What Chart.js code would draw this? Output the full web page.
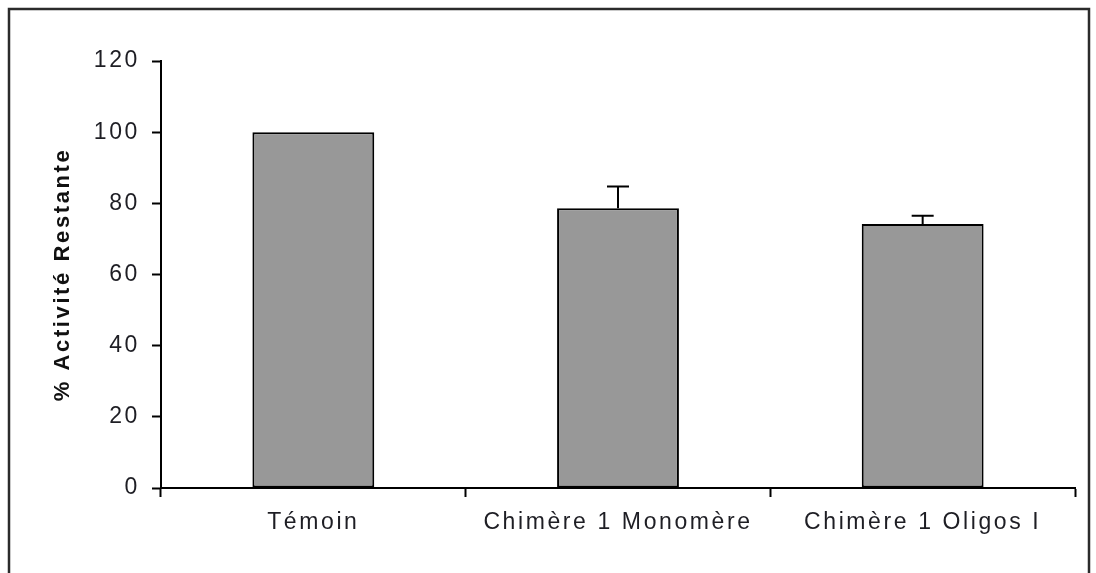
<!DOCTYPE html>
<html>
<head>
<meta charset="utf-8">
<script src="https://cdn.jsdelivr.net/npm/chart.js@4"></script>
<style>
  html, body { margin: 0; padding: 0; background: #fff; }
  #wrap { position: relative; width: 1096px; height: 573px; }
</style>
</head>
<body>
<div id="wrap"><canvas id="chart" width="1096" height="573"></canvas></div>
<script>
// Data
const categories = ['Témoin', 'Chimère 1 Monomère', 'Chimère 1 Oligos I'];
const activity = [100, 78.6, 74.2];
const errorPlus = [0, 6.1, 2.3];
const yTicks = [0, 20, 40, 60, 80, 100, 120];

const FONT = '"Liberation Sans", Arial, Helvetica, sans-serif';
const SPACING = '2.6px';

// Wide letter spacing like the original rendering, plus the outer frame
const framePlugin = {
    id: 'frame',
    beforeUpdate: (chart) => { chart.ctx.letterSpacing = SPACING; },
    beforeDraw: (chart) => {
        const ctx = chart.ctx;
        ctx.letterSpacing = SPACING;
        ctx.save();
        ctx.strokeStyle = '#2b2b2b';
        ctx.lineWidth = 2.5;
        ctx.beginPath();
        ctx.moveTo(9, 573);
        ctx.lineTo(9, 9);
        ctx.lineTo(1089, 9);
        ctx.lineTo(1089, 573);
        ctx.stroke();
        ctx.restore();
    }
};

// Positive error bars drawn from the y scale
const errorBarPlugin = {
    id: 'errorBars',
    afterDatasetsDraw: (chart) => {
        const ctx = chart.ctx;
        const y = chart.scales.y;
        const meta = chart.getDatasetMeta(0);
        ctx.save();
        ctx.strokeStyle = '#000';
        ctx.lineWidth = 2;
        meta.data.forEach((bar, i) => {
            if (!errorPlus[i]) return;
            const top = y.getPixelForValue(activity[i] + errorPlus[i]);
            const base = y.getPixelForValue(activity[i]);
            ctx.beginPath();
            ctx.moveTo(bar.x, base);
            ctx.lineTo(bar.x, top);
            ctx.moveTo(bar.x - 11, top);
            ctx.lineTo(bar.x + 11, top);
            ctx.stroke();
        });
        ctx.restore();
    }
};

new Chart(document.getElementById('chart'), {
    type: 'bar',
    data: {
        labels: categories,
        datasets: [{
            data: activity,
            backgroundColor: '#989898',
            borderColor: '#000',
            borderWidth: 2,
            borderSkipped: false,
            categoryPercentage: 1,
            barPercentage: 0.4
        }]
    },
    options: {
        responsive: false,
        devicePixelRatio: 1,
        animation: false,
        layout: { padding: { left: 20, top: 61, right: 21, bottom: 0 } },
        plugins: {
            legend: { display: false },
            tooltip: { enabled: false }
        },
        scales: {
            x: {
                grid: {
                    offset: true,
                    drawOnChartArea: false,
                    drawTicks: true,
                    tickLength: 9,
                    tickColor: '#000',
                    tickWidth: 2
                },
                border: { display: true, color: '#000', width: 2 },
                ticks: {
                    color: '#1e1e24',
                    font: { family: FONT, size: 23 },
                    padding: 12,
                    maxRotation: 0,
                    autoSkip: false
                },
                afterFit: (scale) => { scale.height = 85; }
            },
            y: {
                min: 0,
                max: 120,
                afterBuildTicks: (scale) => { scale.ticks = yTicks.map(v => ({ value: v })); },
                grid: {
                    drawOnChartArea: false,
                    drawTicks: true,
                    tickLength: 9,
                    tickColor: '#000',
                    tickWidth: 2
                },
                border: { display: true, color: '#000', width: 2 },
                ticks: {
                    color: '#1e1e24',
                    font: { family: FONT, size: 23 },
                    padding: 12
                },
                title: {
                    display: true,
                    text: '% Activité Restante',
                    color: '#111',
                    font: { family: FONT, size: 22, weight: 'bold' },
                    padding: { top: 30, bottom: 0 }
                },
                afterFit: (scale) => { scale.width = 141; }
            }
        }
    },
    plugins: [framePlugin, errorBarPlugin]
});
</script>
</body>
</html>
